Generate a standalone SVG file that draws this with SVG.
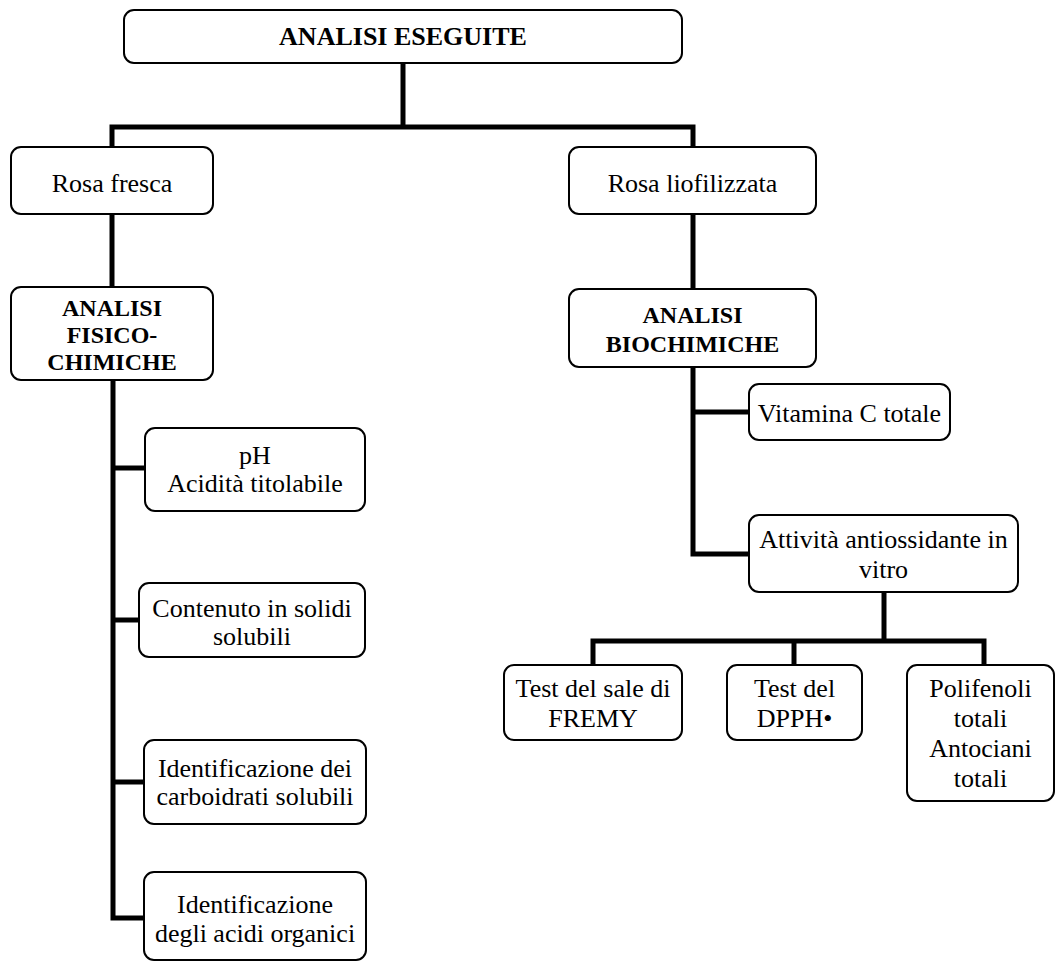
<svg xmlns="http://www.w3.org/2000/svg" width="1056" height="962" viewBox="0 0 1056 962">
<style>
.box{fill:#fff;stroke:#000;stroke-width:2}
.t{font-family:"Liberation Serif","Times New Roman",serif;font-size:26px;fill:#000;text-anchor:middle}
.b{font-family:"Liberation Serif","Times New Roman",serif;font-size:24px;font-weight:bold;fill:#000;text-anchor:middle}
.c{fill:none;stroke:#000;stroke-width:5;stroke-linejoin:miter}
</style>
<rect width="1056" height="962" fill="#fff"/>
<g id="connectors">
<path class="c" d="M403 63V127"/>
<path class="c" d="M112 147V127H693V147"/>
<path class="c" d="M112 214V287"/>
<path class="c" d="M693 214V289"/>
<path class="c" d="M113 380V918H145"/>
<path class="c" d="M113 468H145"/>
<path class="c" d="M113 620H139"/>
<path class="c" d="M113 782H144"/>
<path class="c" d="M693 367V554H749"/>
<path class="c" d="M693 412H749"/>
<path class="c" d="M884 592V641"/>
<path class="c" d="M593 665V641H984V665"/>
<path class="c" d="M794 641V665"/>
</g>
<g id="n-top"><rect class="box" x="124" y="10" width="558" height="53" rx="10"/><text class="b" x="403" y="45" style="font-size:26px">ANALISI ESEGUITE</text></g>
<g id="n-fresca"><rect class="box" x="11" y="147" width="202" height="67" rx="10"/><text class="t" x="112" y="192">Rosa fresca</text></g>
<g id="n-lio"><rect class="box" x="569" y="147" width="247" height="67" rx="10"/><text class="t" x="692.5" y="192">Rosa liofilizzata</text></g>
<g id="n-fisico"><rect class="box" x="11" y="287" width="202" height="93" rx="10"/><text class="b" x="112" y="316">ANALISI</text><text class="b" x="112" y="343">FISICO-</text><text class="b" x="112" y="370">CHIMICHE</text></g>
<g id="n-bio"><rect class="box" x="569" y="289" width="247" height="78" rx="10"/><text class="b" x="692.5" y="323">ANALISI</text><text class="b" x="692.5" y="352">BIOCHIMICHE</text></g>
<g id="n-ph"><rect class="box" x="145" y="428" width="220" height="83" rx="10"/><text class="t" x="255" y="464">pH</text><text class="t" x="255" y="492">Acidità titolabile</text></g>
<g id="n-solidi"><rect class="box" x="139" y="583" width="226" height="74" rx="10"/><text class="t" x="252" y="617">Contenuto in solidi</text><text class="t" x="252" y="645">solubili</text></g>
<g id="n-carbo"><rect class="box" x="144" y="740" width="222" height="84" rx="10"/><text class="t" x="255" y="777">Identificazione dei</text><text class="t" x="255" y="805">carboidrati solubili</text></g>
<g id="n-acidi"><rect class="box" x="144" y="872" width="222" height="88" rx="10"/><text class="t" x="255" y="913">Identificazione</text><text class="t" x="255" y="942">degli acidi organici</text></g>
<g id="n-vitc"><rect class="box" x="749" y="384" width="201" height="56" rx="10"/><text class="t" x="849.5" y="422">Vitamina C totale</text></g>
<g id="n-attiv"><rect class="box" x="749" y="515" width="269" height="77" rx="10"/><text class="t" x="883.5" y="548">Attività antiossidante in</text><text class="t" x="883.5" y="578">vitro</text></g>
<g id="n-fremy"><rect class="box" x="504" y="665" width="178" height="75" rx="10"/><text class="t" x="593" y="697">Test del sale di</text><text class="t" x="593" y="727">FREMY</text></g>
<g id="n-dpph"><rect class="box" x="727" y="665" width="135" height="75" rx="10"/><text class="t" x="794.5" y="697">Test del</text><text class="t" x="794.5" y="727">DPPH•</text></g>
<g id="n-poli"><rect class="box" x="907" y="665" width="147" height="136" rx="10"/><text class="t" x="980.5" y="697">Polifenoli</text><text class="t" x="980.5" y="727">totali</text><text class="t" x="980.5" y="757">Antociani</text><text class="t" x="980.5" y="787">totali</text></g>
</svg>
